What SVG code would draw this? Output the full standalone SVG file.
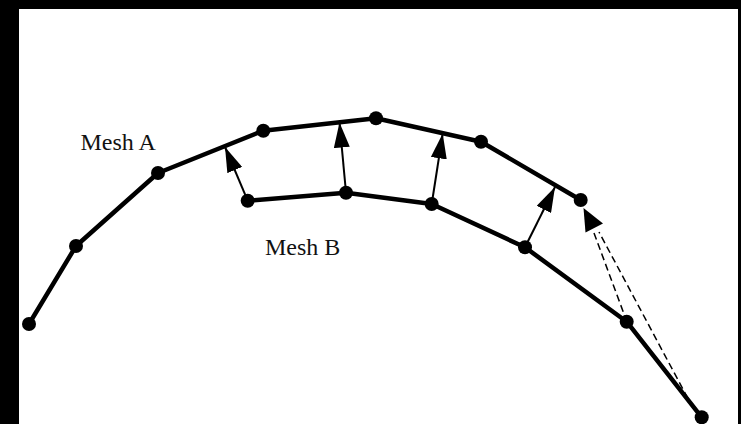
<svg xmlns="http://www.w3.org/2000/svg" width="741" height="424" viewBox="0 0 741 424">
  <style>
    .mesh { fill: none; stroke: #000; stroke-width: 4.5; stroke-linejoin: round; stroke-linecap: round; }
    .node { fill: #000; }
    .move { fill: none; stroke: #000; stroke-width: 2; marker-end: url(#head); }
    .dash { fill: none; stroke: #000; stroke-width: 1.5; stroke-dasharray: 7 4; }
    .label { font-family: "Liberation Serif", "Times New Roman", serif; font-size: 24px; fill: #111; }
  </style>
  <defs>
    <marker id="head" markerUnits="userSpaceOnUse" markerWidth="25" markerHeight="16" refX="25" refY="8" orient="auto">
      <path d="M0,0 L25,8 L0,16 z" fill="#000"/>
    </marker>
  </defs>

  <!-- frame -->
  <rect x="0" y="0" width="741" height="424" fill="#000"/>
  <rect x="19" y="9" width="719" height="415" fill="#fff"/>

  <!-- connectors: displacement arrows from Mesh B onto Mesh A -->
  <g id="connectors">
    <line class="move" x1="247.7" y1="200.7" x2="225" y2="147"/>
    <line class="move" x1="346" y1="192.7" x2="339.5" y2="122.5"/>
    <line class="move" x1="431.7" y1="204" x2="442.7" y2="133.5"/>
    <line class="move" x1="525" y1="247.3" x2="555" y2="187"/>
    <line class="dash" x1="627" y1="322" x2="594" y2="233"/>
    <line class="dash" x1="693" y1="408" x2="599" y2="232"/>
    <polygon points="583.5,208 585.5,232.5 603,223.5" fill="#000"/>
  </g>

  <!-- Mesh A -->
  <g id="mesh-a">
    <polyline class="mesh" points="29,324 76,246 158,173 263.3,130.7 376,118.3 481,141.7 580.7,200"/>
    <circle class="node" cx="29" cy="324" r="7"/>
    <circle class="node" cx="76" cy="246" r="7"/>
    <circle class="node" cx="158" cy="173" r="7"/>
    <circle class="node" cx="263.3" cy="130.7" r="7"/>
    <circle class="node" cx="376" cy="118.3" r="7"/>
    <circle class="node" cx="481" cy="141.7" r="7"/>
    <circle class="node" cx="580.7" cy="200" r="7"/>
    <text class="label" x="80.5" y="149.5">Mesh A</text>
  </g>

  <!-- Mesh B -->
  <g id="mesh-b">
    <polyline class="mesh" points="247.7,200.7 346,192.7 431.7,204 525,247.3 626.7,321.7 701.7,417.3"/>
    <circle class="node" cx="247.7" cy="200.7" r="7"/>
    <circle class="node" cx="346" cy="192.7" r="7"/>
    <circle class="node" cx="431.7" cy="204" r="7"/>
    <circle class="node" cx="525" cy="247.3" r="7"/>
    <circle class="node" cx="626.7" cy="321.7" r="7"/>
    <circle class="node" cx="701.7" cy="417.3" r="7"/>
    <text class="label" x="265" y="254.5">Mesh B</text>
  </g>
</svg>
